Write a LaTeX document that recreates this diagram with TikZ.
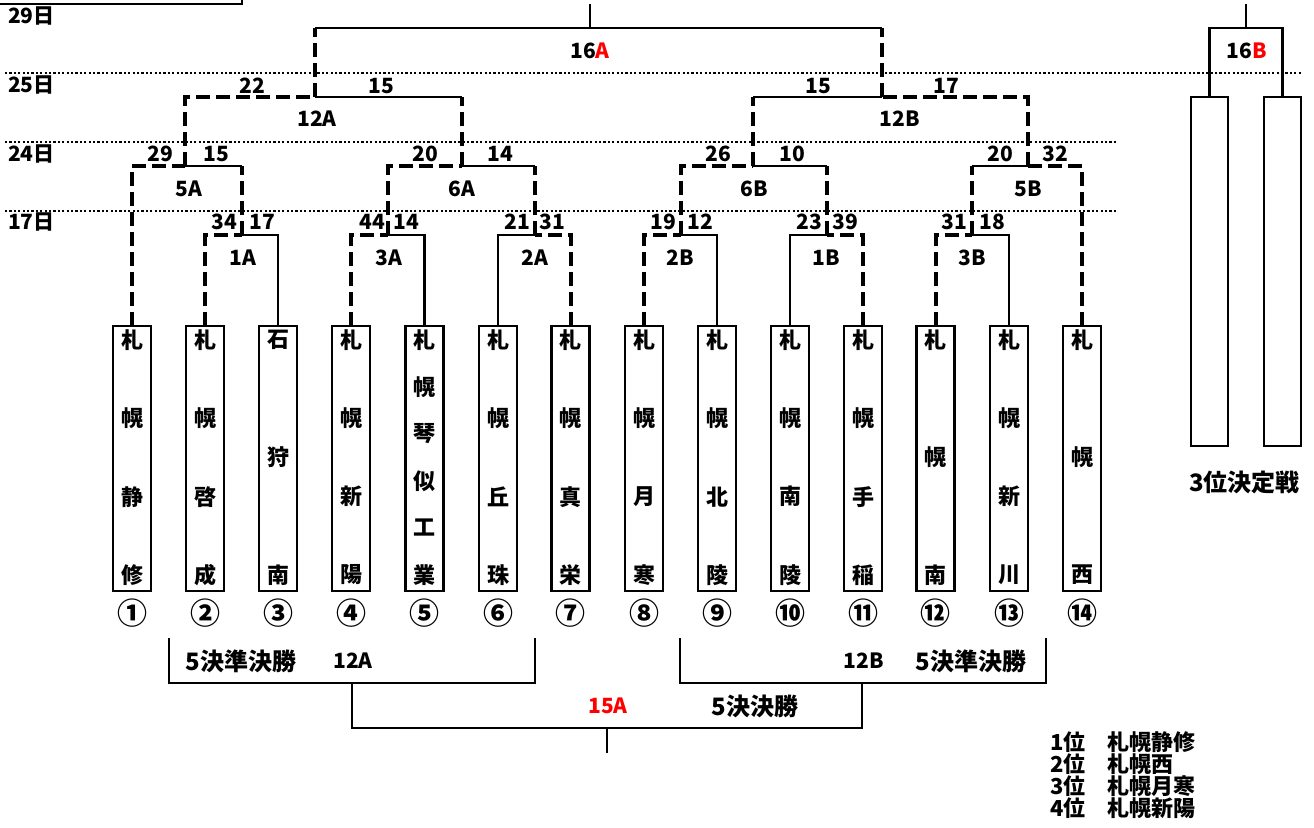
\documentclass[tikz,border=0pt]{standalone}
\usepackage{fontspec}
\setmainfont{Noto Sans CJK JP}
\usepackage{xcolor}

\begin{document}
\begin{tikzpicture}[x=1pt,y=1pt,yscale=-1,
  win/.style={line width=4pt,dash pattern=on 14pt off 6pt},
  lose/.style={line width=2.2pt},
  dayline/.style={line width=1.6pt,dash pattern=on 2.2pt off 2.2pt},
  team/.style={draw,line width=2.5pt,minimum width=38pt,minimum height=265pt,inner sep=0pt,outer sep=0pt},
  thirdbox/.style={draw,line width=2.5pt,minimum width=37pt,minimum height=349pt,inner sep=0pt,outer sep=0pt},
  txt/.style={font=\fontsize{21}{22}\selectfont\bfseries,inner sep=0pt},
  jtxt/.style={font=\fontsize{24}{24}\selectfont\bfseries,inner sep=0pt},
  rank/.style={font=\fontsize{22}{22}\selectfont\bfseries,inner sep=0pt,anchor=west},
  kanji/.style={font=\fontsize{22}{22}\selectfont\bfseries,inner sep=0pt},
  circ/.style={font=\fontsize{30}{30}\selectfont\bfseries,inner sep=0pt}]
\useasboundingbox (0,0) rectangle (1314,827);

%cut edge of the box above
\draw [lose] (0,4) -- (242,4) -- (242,0) ;

%day lines
\draw [dayline] (5,73) -- (1301,73) ;
\draw [dayline] (5,142) -- (1117,142) ;
\draw [dayline] (5,211) -- (1117,211) ;
\node [txt,anchor=west] (d29) at (8,16) {29日};
\node [txt,anchor=west] (d25) at (8,85) {25日};
\node [txt,anchor=west] (d24) at (8,154) {24日};
\node [txt,anchor=west] (d17) at (8,222) {17日};

%team boxes
\foreach \i/\x/\name/\n in {1/132/{札,幌,静,修}/4, 2/205/{札,幌,啓,成}/4, 3/278/{石,狩,南}/3,
    4/351/{札,幌,新,陽}/4, 5/424.5/{札,幌,琴,似,工,業}/6, 6/498/{札,幌,丘,珠}/4,
    7/570.5/{札,幌,真,栄}/4, 8/644/{札,幌,月,寒}/4, 9/717/{札,幌,北,陵}/4,
    10/790/{札,幌,南,陵}/4, 11/863/{札,幌,手,稲}/4, 12/935.5/{札,幌,南}/3,
    13/1009/{札,幌,新,川}/4, 14/1082/{札,幌,西}/3}{
  \node [team] (t\i) at (\x,458.5) {};
  \foreach \ch [count=\k] in \name {
    \node [kanji] (t\i-\k) at (\x,{340+(\k-1)*235/(\n-1)}) {\ch};
  }
}
\foreach \i/\c in {1/①,2/②,3/③,4/④,5/⑤,6/⑥,7/⑦,8/⑧,9/⑨,10/⑩,11/⑪,12/⑫,13/⑬,14/⑭}
  \node [circ] (n\i) at (t\i.south |- 0,613) {\c};

%match points
\coordinate (m1A) at (241.5,235);
\coordinate (m3A) at (388,235);
\coordinate (m2A) at (534.5,235);
\coordinate (m2B) at (680.5,235);
\coordinate (m1B) at (826.5,235);
\coordinate (m3B) at (972,235);
\coordinate (m5A) at (185,166);
\coordinate (m6A) at (462,166);
\coordinate (m6B) at (753,166);
\coordinate (m5B) at (1028,166);
\coordinate (m12A) at (315,97);
\coordinate (m12B) at (882,97);
\coordinate (m16A) at (590,28);
\coordinate (top16A) at (590,4);

%17th
\draw [win] (t2.north) |- (m1A) ;  \draw [lose] (t3.north) |- (m1A) ;
\draw [win] (t4.north) |- (m3A) ;  \draw [lose] (t5.north) |- (m3A) ;
\draw [lose] (t6.north) |- (m2A) ; \draw [win] (t7.north) |- (m2A) ;
\draw [win] (t8.north) |- (m2B) ;  \draw [lose] (t9.north) |- (m2B) ;
\draw [lose] (t10.north) |- (m1B) ; \draw [win] (t11.north) |- (m1B) ;
\draw [win] (t12.north) |- (m3B) ; \draw [lose] (t13.north) |- (m3B) ;

%24th
\draw [win] (t1.north) |- (m5A) ;
\draw [win] (m1A) -- (m1A |- m5A) ; \draw [lose] (m1A |- m5A) -- (m5A) ;
\draw [win] (m3A) |- (m6A) ;
\draw [win] (m2A) -- (m2A |- m6A) ; \draw [lose] (m2A |- m6A) -- (m6A) ;
\draw [win] (m2B) |- (m6B) ;
\draw [win] (m1B) -- (m1B |- m6B) ; \draw [lose] (m1B |- m6B) -- (m6B) ;
\draw [win] (m3B) -- (m3B |- m5B) ; \draw [lose] (m3B |- m5B) -- (m5B) ;
\draw [win] (t14.north) |- (m5B) ;

%25th
\draw [win] (m5A) |- (m12A) ;
\draw [win] (m6A) -- (m6A |- m12A) ; \draw [lose] (m6A |- m12A) -- (m12A) ;
\draw [win] (m6B) -- (m6B |- m12B) ; \draw [lose] (m6B |- m12B) -- (m12B) ;
\draw [win] (m5B) |- (m12B) ;

%29th final
\draw [win] (m12A) -- (m12A |- m16A) ; \draw [lose] (m12A |- m16A) -- (m16A) ;
\draw [win] (m12B) -- (m12B |- m16A) ; \draw [lose] (m12B |- m16A) -- (m16A) ;
\draw [lose] (m16A) -- (top16A) ;

%scores
\node [txt] (sc1Aa) at (224,222) {34};
\node [txt] (sc1Ab) at (262,222) {17};
\node [txt] (sc3Aa) at (372,222) {44};
\node [txt] (sc3Ab) at (406,222) {14};
\node [txt] (sc2Aa) at (517,222) {21};
\node [txt] (sc2Ab) at (552,222) {31};
\node [txt] (sc2Ba) at (663,222) {19};
\node [txt] (sc2Bb) at (700,222) {12};
\node [txt] (sc1Ba) at (809,222) {23};
\node [txt] (sc1Bb) at (845,222) {39};
\node [txt] (sc3Ba) at (954,222) {31};
\node [txt] (sc3Bb) at (992,222) {18};
\node [txt] (sc5Aa) at (160,154) {29};
\node [txt] (sc5Ab) at (216,154) {15};
\node [txt] (sc6Aa) at (425,154) {20};
\node [txt] (sc6Ab) at (500,154) {14};
\node [txt] (sc6Ba) at (718,154) {26};
\node [txt] (sc6Bb) at (792,154) {10};
\node [txt] (sc5Ba) at (1000,154) {20};
\node [txt] (sc5Bb) at (1055,154) {32};
\node [txt] (sc12Aa) at (252,86) {22};
\node [txt] (sc12Ab) at (381,86) {15};
\node [txt] (sc12Ba) at (818,86) {15};
\node [txt] (sc12Bb) at (946,86) {17};

%match names
\node [txt] (l1A) at (243,258) {1A};
\node [txt] (l3A) at (389,258) {3A};
\node [txt] (l2A) at (535,258) {2A};
\node [txt] (l2B) at (680,258) {2B};
\node [txt] (l1B) at (826,258) {1B};
\node [txt] (l3B) at (972,258) {3B};
\node [txt] (l5A) at (189,189) {5A};
\node [txt] (l6A) at (462,189) {6A};
\node [txt] (l6B) at (754,189) {6B};
\node [txt] (l5B) at (1028,189) {5B};
\node [txt] (l12A) at (317,119) {12A};
\node [txt] (l12B) at (900,119) {12B};
\node [txt] (l16A) at (590,51) {16\textcolor{red}{A}};

%third place
\node [thirdbox] (p1) at (1209.5,271.5) {};
\node [thirdbox] (p2) at (1282.5,271.5) {};
\coordinate (m16B) at (1246,28);
\coordinate (top16B) at (1246,4);
\draw [lose] (p1.north) |- (m16B) -| (p2.north) ;
\draw [lose] (m16B) -- (top16B) ;
\node [txt] (l16B) at (1247,51) {16\textcolor{red}{B}};
\node [jtxt,anchor=west] (l3rd) at (1189,482) {3位決定戦};

%5th place
\coordinate (qA1) at (169,638);
\coordinate (qA2) at (535,638);
\coordinate (q12A) at (352,683);
\coordinate (qB1) at (680,638);
\coordinate (qB2) at (1046,638);
\coordinate (q12B) at (862,683);
\coordinate (q15A) at (607,728);
\coordinate (bot15A) at (607,753);
\draw [lose] (qA1) |- (q12A) -| (qA2) ;
\draw [lose] (qB1) |- (q12B) -| (qB2) ;
\draw [lose] (q12A) |- (q15A) -| (q12B) ;
\draw [lose] (q15A) -- (bot15A) ;
\node [jtxt] (lq5A) at (241,661) {5決準決勝};
\node [txt] (lq12A) at (353,661) {12A};
\node [txt] (lq12B) at (864,661) {12B};
\node [jtxt] (lq5B) at (971,661) {5決準決勝};
\node [txt,text=red] (lq15A) at (608,706) {15A};
\node [jtxt] (lq5) at (755,706) {5決決勝};

%ranking
\node [rank] (r1) at (1050,742) {1位};  \node [rank] (r1n) at (1107,742) {札幌静修};
\node [rank] (r2) at (1050,764) {2位};  \node [rank] (r2n) at (1107,764) {札幌西};
\node [rank] (r3) at (1050,786) {3位};  \node [rank] (r3n) at (1107,786) {札幌月寒};
\node [rank] (r4) at (1050,808) {4位};  \node [rank] (r4n) at (1107,808) {札幌新陽};

\end{tikzpicture}
\end{document}
